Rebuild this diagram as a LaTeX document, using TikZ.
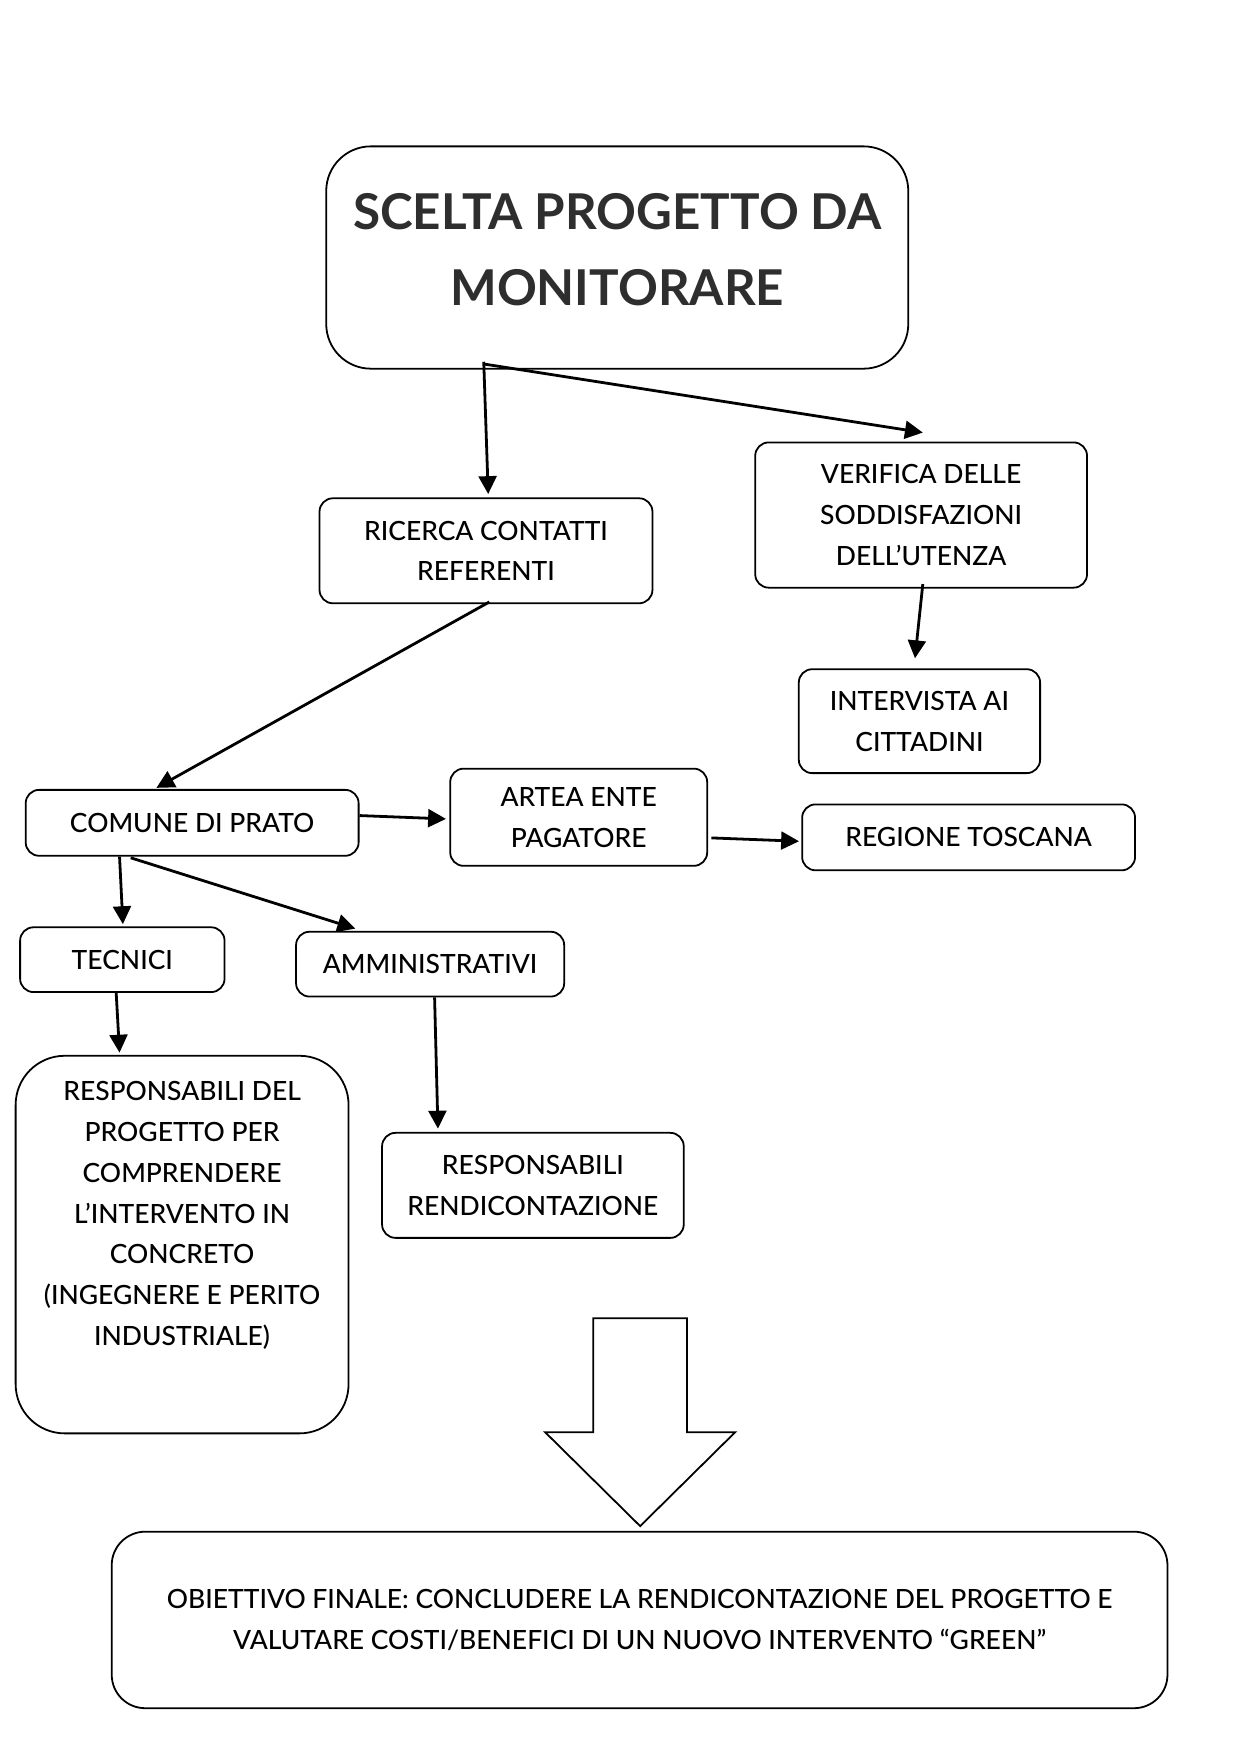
\documentclass[tikz,border=0pt]{standalone}
\usepackage{fontspec}
\setmainfont{Lato}
\newfontfamily\latomed{Lato Medium}
\usetikzlibrary{arrows.meta,calc}

\begin{document}
\begin{tikzpicture}[x=0.5pt,y=0.5pt,->,>={Triangle[length=8pt,width=8pt]},line width=1.25pt]
	\tikzstyle{box}=[draw,-,line width=0.8pt,rounded corners=6pt,align=center,inner sep=0pt,font=\latomed\fontsize{11.85}{18.25}\selectfont]
	\tikzstyle{titlebox}=[box,rounded corners=20pt]
	\tikzstyle{titletext}=[align=center,text=black!82,font=\bfseries\fontsize{22.1}{34}\selectfont,yshift=3.5pt]

	\useasboundingbox (0,0) rectangle (1109,-1570);

	\node[titlebox,minimum width=260.5pt,minimum height=99.5pt,
		label={[titletext]center:{SCELTA PROGETTO DA\\MONITORARE}}] (scelta) at (552.5,-230.5) {};
	\node[box,minimum width=149pt,minimum height=47pt]     (ricerca)    at (435,-493)    {RICERCA CONTATTI\\REFERENTI};
	\node[box,minimum width=148.5pt,minimum height=65pt]   (verifica)   at (824.5,-461)  {VERIFICA DELLE\\SODDISFAZIONI\\DELL’UTENZA};
	\node[box,minimum width=108pt,minimum height=46.5pt]   (intervista) at (823,-645.5)  {INTERVISTA AI\\CITTADINI};
	\node[box,minimum width=149pt,minimum height=29.5pt]   (comune)     at (172,-736.5)  {COMUNE DI PRATO};
	\node[box,minimum width=115pt,minimum height=43.5pt]   (artea)      at (518,-731.5)  {ARTEA ENTE\\PAGATORE};
	\node[box,minimum width=149pt,minimum height=29.5pt]   (regione)    at (867,-749.5)  {REGIONE TOSCANA};
	\node[box,minimum width=91.5pt,minimum height=29pt]    (tecnici)    at (109.5,-859)  {TECNICI};
	\node[box,minimum width=120pt,minimum height=29pt]     (ammin)      at (385,-863)    {AMMINISTRATIVI};
	\node[box,rounded corners=22pt,minimum width=149pt,minimum height=169pt,
		label={[align=center,font=\latomed\fontsize{11.85}{18.25}\selectfont,yshift=13pt]center:{RESPONSABILI DEL\\PROGETTO PER\\COMPRENDERE\\L’INTERVENTO IN\\CONCRETO\\(INGEGNERE E PERITO\\INDUSTRIALE)}}]
		(respprog) at (163,-1114) {};
	\node[box,minimum width=135pt,minimum height=47pt]     (resprend)   at (477,-1061)   {RESPONSABILI\\RENDICONTAZIONE};
	\node[box,rounded corners=15pt,minimum width=472.5pt,minimum height=79pt] (obiettivo) at (572.5,-1450)
		{OBIETTIVO FINALE: CONCLUDERE LA RENDICONTAZIONE DEL PROGETTO E\\VALUTARE COSTI/BENEFICI DI UN NUOVO INTERVENTO “GREEN”};

	\draw ($(scelta.south)+(-119.5,7)$) -- ($(ricerca.north)+(2,3)$);
	\draw ($(scelta.south)+(-119.5,5)$) -- ($(verifica.north)+(1.5,8)$);
	\draw ($(ricerca.south)+(3,2)$) -- ($(comune.north)+(-32,1)$);
	\draw ($(verifica.south)+(1.5,4)$) -- ($(intervista.north)+(-4,9)$);
	\draw ($(comune.east)+(0,6.5)$) -- ($(artea.west)+(-3,-1.5)$);
	\draw ($(artea.east)+(3,-18.5)$) -- ($(regione.west)+(-2,-3.5)$);
	\draw ($(comune.south)+(-65,0)$) -- ($(tecnici.north)+(0.5,2)$);
	\draw ($(comune.south)+(-55,-1)$) -- ($(ammin.north)+(-67,2)$);
	\draw ($(tecnici.south)+(-5.5,0)$) -- ($(respprog.north)+(-56,2)$);
	\draw ($(ammin.south)+(4,0)$) -- ($(resprend.north)+(-85,3)$);

	\draw[-,line width=0.8pt] (531,-1180) -- (615,-1180) -- (615,-1282) -- (658,-1282) -- (573,-1366) -- (488,-1282) -- (531,-1282) -- cycle;

\end{tikzpicture}
\end{document}
